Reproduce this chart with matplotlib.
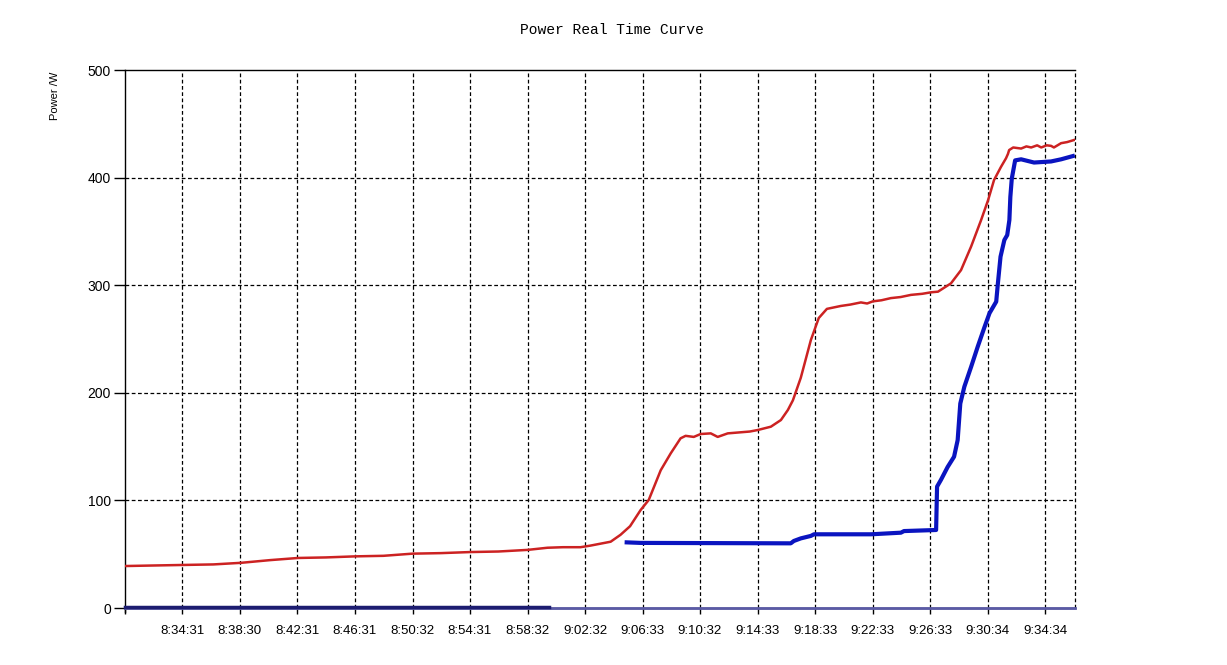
import matplotlib
matplotlib.use("Agg")
import matplotlib.pyplot as plt
from datetime import datetime

# ---- data ----
t0_str = "8:30:31"
t_end_str = "9:36:38"

tick_labels = ["8:34:31", "8:38:30", "8:42:31", "8:46:31", "8:50:32", "8:54:31",
               "8:58:32", "9:02:32", "9:06:33", "9:10:32", "9:14:33", "9:18:33",
               "9:22:33", "9:26:33", "9:30:34", "9:34:34"]

red_times = ["8:30:31", "8:32:30", "8:34:33", "8:36:40", "8:38:36", "8:40:37", "8:42:34",
             "8:44:30", "8:46:33", "8:48:30", "8:50:31", "8:52:30", "8:54:33", "8:56:30",
             "8:58:32", "8:59:55", "9:01:00", "9:02:13", "9:02:55", "9:04:19", "9:05:00",
             "9:05:40", "9:06:24", "9:06:58", "9:07:48", "9:08:30", "9:09:11", "9:09:32",
             "9:10:06", "9:10:35", "9:11:17", "9:11:46", "9:12:28", "9:13:22", "9:14:00",
             "9:14:33", "9:15:28", "9:16:10", "9:16:39", "9:17:00", "9:17:33", "9:18:15",
             "9:18:48", "9:19:22", "9:20:20", "9:21:00", "9:21:44", "9:22:10", "9:22:34",
             "9:23:10", "9:23:49", "9:24:30", "9:25:13", "9:26:00", "9:26:37", "9:27:06",
             "9:28:00", "9:28:42", "9:29:24", "9:30:06", "9:30:35", "9:31:00", "9:31:29",
             "9:31:50", "9:31:58", "9:32:03", "9:32:20", "9:32:53", "9:33:15", "9:33:35",
             "9:34:00", "9:34:17", "9:34:40", "9:34:58", "9:35:10", "9:35:40", "9:36:05",
             "9:36:35"]
red_values = [39, 39.5, 40, 40.5, 42, 44.5, 46.5,
              47, 48, 48.5, 50.5, 51, 52, 52.5,
              54, 56, 56.5, 56.5, 58, 61.6, 68,
              76, 91, 100.4, 128, 143.8, 157.7, 160,
              159, 161.7, 162.3, 159, 162.3, 163.3, 164,
              165.4, 168.5, 174.7, 184, 193, 214, 249,
              269.5, 278, 280.7, 282, 284, 283, 285,
              286, 288, 289, 291, 292, 293.4, 294,
              301.7, 314, 335.8, 360.6, 379, 397.8, 410,
              418, 422, 425.6, 428, 427, 429, 428,
              430, 428, 430, 429.5, 428, 432, 433,
              435]

blue_zero_times = ["8:30:31", "9:00:00"]
blue_zero_values = [0.5, 0.5]

blue_times = ["9:05:26", "9:06:24", "9:16:51", "9:17:04", "9:17:33", "9:18:15", "9:18:28",
              "9:22:26", "9:23:08", "9:24:31", "9:24:44", "9:26:58", "9:27:02", "9:27:18",
              "9:27:46", "9:28:13", "9:28:28", "9:28:39", "9:28:56", "9:29:24", "9:29:52",
              "9:30:20", "9:30:41", "9:31:09", "9:31:16", "9:31:27", "9:31:43", "9:31:55",
              "9:32:04", "9:32:08", "9:32:14", "9:32:28", "9:32:53", "9:33:47", "9:34:58",
              "9:35:40", "9:36:29"]
blue_values = [61, 60.5, 60.1, 62.3, 64.7, 67, 68.5,
               68.5, 69, 70, 71.5, 72.5, 112.8, 119,
               131, 140.6, 156, 190, 205.7, 224, 243,
               261, 274, 284.7, 301.7, 326.5, 342, 346.6,
               360.6, 382, 399, 416, 417, 414, 415,
               417, 420]

base_times = ["8:30:31", "9:36:38"]
base_values = [0, 0]

y_ticks = [0, 100, 200, 300, 400, 500]


def secs(s):
    d = datetime.strptime(s, "%H:%M:%S")
    return d.hour * 3600 + d.minute * 60 + d.second


T0 = secs(t0_str)


def rel(lst):
    return [secs(s) - T0 for s in lst]


fig = plt.figure(figsize=(12.27, 6.65), dpi=100)
ax = fig.add_axes([125 / 1227, 57 / 665, 950 / 1227, 538 / 665])

ax.plot(rel(base_times), base_values, color="#5a5aa5", lw=2.0, zorder=3, clip_on=False)
ax.plot(rel(blue_zero_times), blue_zero_values, color="#1c1c70", lw=2.5, zorder=4, clip_on=False)
ax.plot(rel(red_times), red_values, color="#cc2222", lw=1.8, zorder=5)
ax.plot(rel(blue_times), blue_values, color="#0a14c0", lw=3.0, zorder=6)

ax.set_xlim(0, secs(t_end_str) - T0)
ax.set_ylim(0, 500)

tick_pos = rel(tick_labels)
ax.set_xticks([0] + tick_pos)
ax.set_xticklabels([""] + tick_labels, fontfamily="Liberation Sans", fontsize=9.5)
ax.set_yticks(y_ticks)
ax.set_yticklabels([str(v) for v in y_ticks], fontfamily="Liberation Sans", fontsize=10)
ax.tick_params(axis="x", length=4, width=1, pad=8, colors="black")
ax.tick_params(axis="y", length=8, width=1, pad=2, colors="black")

for p in tick_pos:
    ax.axvline(p, color="black", lw=0.9, ls=(0, (3, 2)), zorder=1)
ax.axvline(secs(t_end_str) - T0, color="black", lw=0.9, ls=(0, (3, 2)), zorder=1, clip_on=False)
for v in y_ticks[1:-1]:
    ax.axhline(v, color="black", lw=0.9, ls=(0, (3, 2)), zorder=1)

ax.spines["right"].set_visible(False)
for s in ["left", "bottom", "top"]:
    ax.spines[s].set_linewidth(1.0)
ax.spines["left"].set_bounds(-4, 500)

fig.text(612 / 1227, 1 - 30 / 665, "Power Real Time Curve", ha="center", va="center",
         fontfamily="Liberation Mono", fontsize=10.5)
fig.text(55 / 1227, 1 - 96 / 665, "Power /W", ha="center", va="center", rotation=90,
         fontfamily="Liberation Sans", fontsize=8)

fig.savefig("out.png", dpi=100)
